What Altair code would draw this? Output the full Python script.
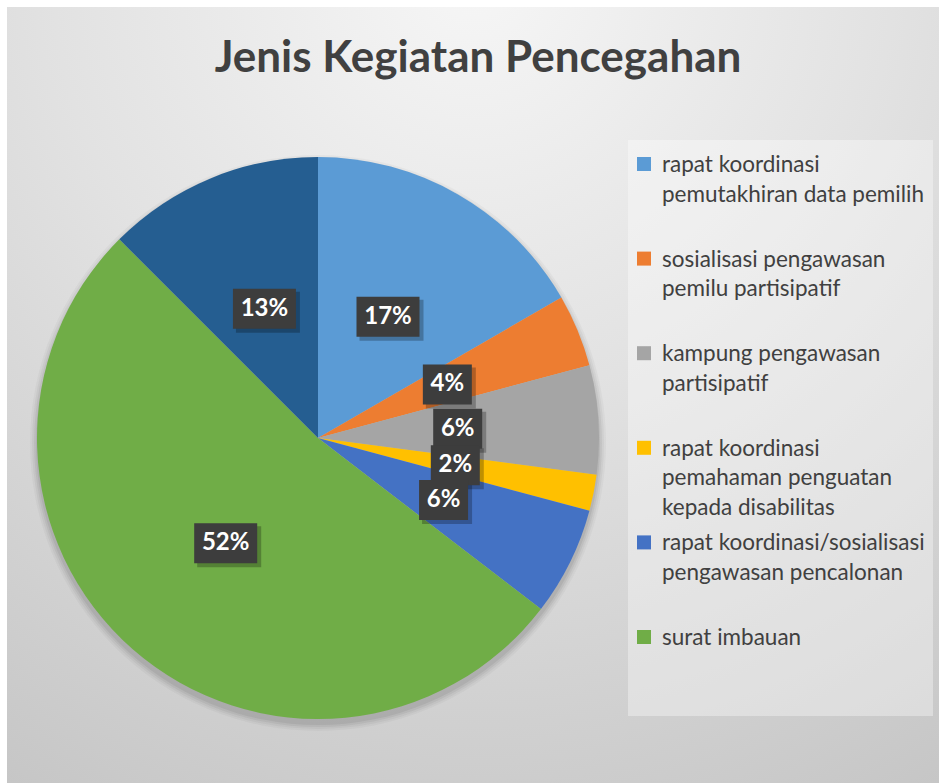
import altair as alt
import pandas as pd

# ---------------- data ----------------
title_text = "Jenis Kegiatan Pencegahan"
categories = [
    "rapat koordinasi pemutakhiran data pemilih",
    "sosialisasi pengawasan pemilu partisipatif",
    "kampung pengawasan partisipatif",
    "rapat koordinasi pemahaman penguatan kepada disabilitas",
    "rapat koordinasi/sosialisasi pengawasan pencalonan",
    "surat imbauan",
    "lainnya",
]
counts = [8, 2, 3, 1, 3, 25, 6]
colors = ["#5B9BD5", "#ED7D31", "#A5A5A5", "#FFC000", "#4472C4", "#70AD47", "#255E91"]
legend_lines = [
    ["rapat koordinasi", "pemutakhiran data pemilih"],
    ["sosialisasi pengawasan", "pemilu partisipatif"],
    ["kampung pengawasan", "partisipatif"],
    ["rapat koordinasi", "pemahaman penguatan", "kepada disabilitas"],
    ["rapat koordinasi/sosialisasi", "pengawasan pencalonan"],
    ["surat imbauan"],
]

# ---------------- layout constants ----------------
W, H = 939, 783
CX, CY, R = 318, 438, 281
LABEL_R = 140
FONT = "Lato"
TXT = "#404040"

pie_df = pd.DataFrame({"category": categories, "count": counts, "idx": list(range(len(categories)))})
legend_df = pd.DataFrame({
    "category": categories[: len(legend_lines)],
    "label": ["|".join(l) for l in legend_lines],
    "i": list(range(len(legend_lines))),
})
one = pd.DataFrame({"t": [title_text]})

color_scale = alt.Scale(domain=categories, range=colors)

# background with radial gradient
bg = alt.Chart(one).mark_rect(
    color=alt.RadialGradient(
        gradient="radial",
        stops=[
            alt.GradientStop(color="#f6f6f6", offset=0),
            alt.GradientStop(color="#e2e2e2", offset=0.45),
            alt.GradientStop(color="#c6c6c6", offset=1),
        ],
        x1=0.5, y1=0.05, r1=0, x2=0.5, y2=0.05, r2=1.0,
    )
).encode(x=alt.value(7), x2=alt.value(W), y=alt.value(7), y2=alt.value(H))

# legend panel
panel = alt.Chart(one).mark_rect(color="white", opacity=0.35).encode(
    x=alt.value(628), x2=alt.value(933), y=alt.value(140), y2=alt.value(716)
)

# title
title = alt.Chart(one).mark_text(
    font=FONT, fontWeight="bold", fontSize=44, color=TXT, align="center", baseline="alphabetic"
).encode(x=alt.value(478), y=alt.value(72), text="t:N")

# pie shadow
shadows = [
    alt.Chart(one).mark_arc(theta=0, theta2=6.2832, outerRadius=R + dr, color="black", opacity=op).encode(
        x=alt.value(CX), y=alt.value(CY + 5)
    )
    for dr, op in [(7, 0.03), (5, 0.04), (3, 0.05), (1, 0.06)]
]

# pie
pie = alt.Chart(pie_df).mark_arc(outerRadius=R).encode(
    theta=alt.Theta("count:Q", stack=True),
    order=alt.Order("idx:Q"),
    color=alt.Color("category:N", scale=color_scale, legend=None),
    x=alt.value(CX),
    y=alt.value(CY),
)

lab_base = alt.Chart(pie_df).transform_window(
    cum="sum(count)", sort=[alt.SortField("idx")]
).transform_joinaggregate(total="sum(count)").transform_calculate(
    mid="(datum.cum - datum.count/2)/datum.total",
    ang="2*PI*datum.mid",
    px=f"{CX} + {LABEL_R}*sin(datum.ang)",
    py=f"{CY} - {LABEL_R}*cos(datum.ang)",
    pct="format(datum.count/datum.total, '.0%')",
    w="14*length(datum.pct)+21",
    bx1="datum.px - datum.w/2",
    bx2="datum.px + datum.w/2",
    by1="datum.py - 20",
    by2="datum.py + 20",
    sx1="datum.bx1 + 3",
    sx2="datum.bx2 + 4",
    sy1="datum.by1 + 3",
    sy2="datum.by2 + 4",
)

box_shadow = lab_base.mark_rect(color="black", opacity=0.25).encode(
    x=alt.X("sx1:Q", scale=None, axis=None), x2="sx2:Q",
    y=alt.Y("sy1:Q", scale=None, axis=None), y2="sy2:Q",
)
boxes = lab_base.mark_rect(color="#3d3d3d").encode(
    x=alt.X("bx1:Q", scale=None, axis=None), x2="bx2:Q",
    y=alt.Y("by1:Q", scale=None, axis=None), y2="by2:Q",
)
lab_text = lab_base.mark_text(
    font=FONT, fontWeight="bold", fontSize=24, color="white", align="center", baseline="middle"
).encode(
    x=alt.X("px:Q", scale=None, axis=None),
    y=alt.Y("py:Q", scale=None, axis=None),
    text="pct:N",
)

# legend
leg_base = alt.Chart(legend_df).transform_calculate(
    ly="172 + datum.i*94.6",
    sy="datum.ly - 8",
    lines="split(datum.label, '|')",
)
leg_sq = leg_base.mark_square(size=196, opacity=1).encode(
    x=alt.value(644),
    y=alt.Y("sy:Q", scale=None, axis=None),
    color=alt.Color("category:N", scale=color_scale, legend=None),
)
leg_txt = leg_base.mark_text(
    font=FONT, fontSize=22.5, color=TXT, align="left", baseline="alphabetic", lineHeight=29.5
).encode(
    x=alt.value(662),
    y=alt.Y("ly:Q", scale=None, axis=None),
    text=alt.Text("lines:N"),
)

chart = alt.layer(
    bg, panel, title, *shadows, pie, box_shadow, boxes, lab_text, leg_sq, leg_txt
).properties(
    width=W, height=H, padding=0, autosize="none", background="white"
).configure_view(stroke=None)

chart.save("out.html", embed_options={"renderer": "svg", "actions": False})
